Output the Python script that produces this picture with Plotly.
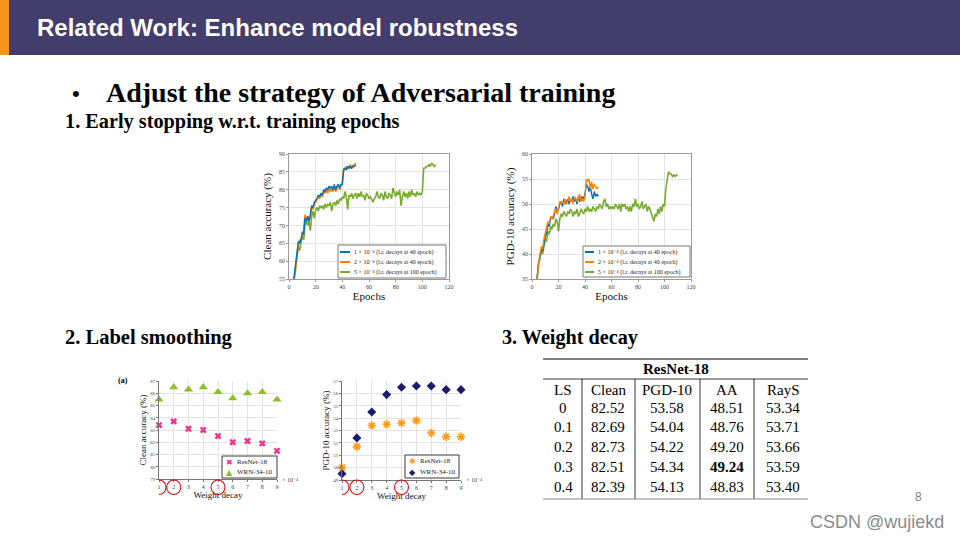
import plotly.graph_objects as go

# ---------------- data ----------------
epochs_short = list(range(3, 51))
epochs_long = list(range(3, 111))

clean_wd1 = [53, 56, 59, 62, 65.5, 65, 66, 68,
             67.5, 72, 71, 72.5, 71, 73, 75.5, 75, 76.5, 77,
             77.5, 78.5, 78, 79, 78.5, 80, 79.5, 80.5, 80, 81,
             80.5, 81, 80, 81.5, 80, 81, 81.5, 80.5, 81.5, 81.5,
             85.5, 86, 85.5, 86.5, 86, 86.5, 86, 86.5, 86.5, 87]
clean_wd2 = [52.5, 55.5, 59.5, 63, 64.5, 66, 65.5, 68,
             68.5, 73, 71.5, 72.5, 72, 72, 75, 74.5, 76, 76.5,
             77.5, 78, 77.5, 79, 78, 79.5, 79, 80, 79, 80.5,
             79.5, 80.5, 79.5, 81, 79.5, 80.5, 81.5, 80, 81, 82,
             86, 85.5, 86.5, 86, 86.5, 87, 86, 87, 86.5, 87.5]
clean_wd5 = [52, 55, 58, 61, 64, 63, 65, 67,
             66, 70, 71.5, 70, 71, 68.5, 72.5, 74, 72, 74.5,
             75, 74, 75.5, 75, 75.5, 74.5, 76, 75, 76, 75.5,
             76.5, 74, 76, 76.5, 75.5, 77, 76, 77.5, 77, 78,
             77.5, 79.5, 78, 74.5, 78.5, 78, 79, 77.5, 78.5, 79,
             77.5, 79, 78, 79.5, 78, 78.5, 77, 79, 78.5, 77.5,
             78, 77, 76.5, 77.5, 78, 79.5, 78, 77.5, 79, 78.5,
             77, 79.5, 78, 77.5, 79, 78.5, 77.5, 80.5, 79, 78,
             79.5, 78.5, 80, 75.5, 78, 79.5, 78, 79, 77.5, 79.5,
             78, 80, 78.5, 79, 78, 79.5, 78.5, 79, 78.5, 79.5,
             86, 86, 86.5, 86.5, 87, 86.5, 87.5, 87, 86.5, 87]

pgd_wd1 = [33, 35.5, 38.5, 39.5, 41, 40.5, 42.5, 43.5,
           44, 46, 45.5, 47, 47.5, 47, 48, 49.5, 48.5, 49,
           50, 50.5, 49.5, 51, 50, 50.5, 51, 50, 51, 50.5,
           51.5, 50.5, 51, 50, 51.5, 50.5, 51, 51.5, 51, 52,
           54, 53.5, 52.5, 53.5, 52, 51, 52.5, 51.5, 52, 51.5]
pgd_wd2 = [33.5, 36, 38, 40, 41.5, 41, 43, 44,
           45, 46.5, 46, 47.5, 47, 47.5, 48.5, 49, 48, 49.5,
           50.5, 50, 50.5, 50, 51, 50, 50.5, 51.5, 50.5, 51,
           50, 51.5, 51, 50.5, 51, 52, 50.5, 51, 50.5, 51.5,
           55, 54.5, 55, 53, 54.5, 53, 54, 53.5, 53, 53.5]
pgd_wd5 = [32.5, 35, 38, 39, 40.5, 40, 42, 43,
           42.5, 44.5, 44, 45.5, 45, 46, 45.5, 47, 46.5, 44.5,
           47, 48, 47.5, 48.5, 48, 47.5, 48.5, 48, 49, 48.5,
           47.5, 48.5, 48, 49, 47.5, 48, 49, 48.5, 48, 49,
           48.5, 49.5, 48.5, 49, 48.5, 49.5, 49, 48.5, 49.5, 49,
           50, 49.5, 49, 50.5, 51, 49.5, 50, 49, 49.5, 49,
           49.5, 49, 50, 49.5, 49, 50, 48.5, 50, 49.5, 50,
           49, 49.5, 48.5, 49.5, 48.5, 50, 49.5, 51, 49.5, 50,
           49, 49.5, 50.5, 49, 49.5, 50, 48.5, 49.5, 49, 48,
           47.5, 46.5, 48, 47.5, 49, 48, 49.5, 48.5, 50, 49.5,
           53, 55, 56.5, 56, 56, 55.5, 55.8, 55.5, 55.8, 55.7]

curve_names = ["1 \u00d7 10\u207b\u2074 (l.r. decays at 40 epoch)",
               "2 \u00d7 10\u207b\u2074 (l.r. decays at 40 epoch)",
               "5 \u00d7 10\u207b\u2074 (l.r. decays at 100 epoch)"]

weight_decay = [1, 2, 3, 4, 5, 6, 7, 8, 9]
highlighted_wd = [1, 2, 5]
clean_resnet18 = [83.4, 83.7, 83.1, 83.0, 82.5, 82.0, 82.1, 81.9, 81.3]
clean_wrn = [85.5, 86.5, 86.3, 86.5, 86.1, 85.6, 86.0, 86.1, 85.5]
pgd_resnet18 = [50.0, 51.7, 53.4, 53.5, 53.6, 53.8, 52.8, 52.5, 52.5]
pgd_wrn = [49.5, 52.4, 54.5, 55.9, 56.5, 56.6, 56.6, 56.3, 56.3]
model_names = ["ResNet-18", "WRN-34-10"]

table_title = "ResNet-18"
table_header = ["LS", "Clean", "PGD-10", "AA", "RayS"]
ls_values = ["0", "0.1", "0.2", "0.3", "0.4"]
ls_clean = ["82.52", "82.69", "82.73", "82.51", "82.39"]
ls_pgd10 = ["53.58", "54.04", "54.22", "54.34", "54.13"]
ls_aa = ["48.51", "48.76", "49.20", "49.24", "48.83"]
ls_rays = ["53.34", "53.71", "53.66", "53.59", "53.40"]
best_cell = (3, 3)  # row, column shown in bold

# ---------------- helpers ----------------
W, H = 960, 540
def px(x):
    return x / W
def py(y):
    return 1 - y / H

SERIF = "Liberation Serif, Times New Roman, DejaVu Serif, serif"
SANS = "Liberation Sans, Arial, sans-serif"
LINE_COLORS = ["#0072BD", "#FF8000", "#77AC30"]

fig = go.Figure()

# top-left: clean accuracy curves
fig.add_trace(go.Scatter(x=epochs_long, y=clean_wd5, mode="lines", name=curve_names[2],
                         line=dict(color=LINE_COLORS[2], width=1.6), xaxis="x", yaxis="y", showlegend=False))
fig.add_trace(go.Scatter(x=epochs_short, y=clean_wd2, mode="lines", name=curve_names[1],
                         line=dict(color=LINE_COLORS[1], width=1.6), xaxis="x", yaxis="y", showlegend=False))
fig.add_trace(go.Scatter(x=epochs_short, y=clean_wd1, mode="lines", name=curve_names[0],
                         line=dict(color=LINE_COLORS[0], width=1.4), xaxis="x", yaxis="y", showlegend=False))
# top-right: PGD-10 curves
fig.add_trace(go.Scatter(x=epochs_long, y=pgd_wd5, mode="lines", name=curve_names[2],
                         line=dict(color=LINE_COLORS[2], width=1.6), xaxis="x2", yaxis="y2", showlegend=False))
fig.add_trace(go.Scatter(x=epochs_short, y=pgd_wd1, mode="lines", name=curve_names[0],
                         line=dict(color=LINE_COLORS[0], width=1.4), xaxis="x2", yaxis="y2", showlegend=False))
fig.add_trace(go.Scatter(x=epochs_short, y=pgd_wd2, mode="lines", name=curve_names[1],
                         line=dict(color=LINE_COLORS[1], width=1.4), xaxis="x2", yaxis="y2", showlegend=False))

# bottom-left: clean accuracy vs weight decay
MAGENTA, LIME, ORANGE, NAVY = "#F0328C", "#8CBF26", "#FF9A1A", "#1B1B6E"
fig.add_trace(go.Scatter(x=weight_decay, y=clean_resnet18, mode="markers", name=model_names[0],
                         marker=dict(symbol="x", size=6, color=MAGENTA, line=dict(width=0)),
                         xaxis="x3", yaxis="y3", showlegend=False, cliponaxis=False))
fig.add_trace(go.Scatter(x=weight_decay, y=clean_wrn, mode="markers", name=model_names[1],
                         marker=dict(symbol="triangle-up", size=8, color=LIME),
                         xaxis="x3", yaxis="y3", showlegend=False, cliponaxis=False))
# bottom-right: PGD-10 vs weight decay
fig.add_trace(go.Scatter(x=weight_decay, y=pgd_resnet18, mode="markers", name=model_names[0],
                         marker=dict(symbol="asterisk-open", size=7, color=ORANGE,
                                     line=dict(width=1.6, color=ORANGE)),
                         xaxis="x4", yaxis="y4", showlegend=False, cliponaxis=False))
fig.add_trace(go.Scatter(x=weight_decay, y=pgd_wrn, mode="markers", name=model_names[1],
                         marker=dict(symbol="diamond", size=7, color=NAVY),
                         xaxis="x4", yaxis="y4", showlegend=False, cliponaxis=False))

# ---------------- axes ----------------
def top_axis(domain, rng, dtick, anchor, title, standoff):
    return dict(domain=domain, range=rng, dtick=dtick, anchor=anchor,
                showgrid=True, gridcolor="#e3e3e3", gridwidth=0.7,
                showline=True, linecolor="#9a9a9a", linewidth=0.7, mirror=True,
                ticks="outside", ticklen=2, tickcolor="#9a9a9a", zeroline=False,
                tickfont=dict(family=SERIF, size=6, color="#444"),
                title=dict(text=title, font=dict(family=SERIF, size=11, color="#111"), standoff=standoff),
                automargin=False, fixedrange=True)

def bot_axis(domain, rng, dtick, anchor, title, standoff, fs=5):
    return dict(domain=domain, range=rng, dtick=dtick, anchor=anchor,
                showgrid=True, gridcolor="#e3e3e3", gridwidth=0.7,
                showline=True, linecolor="#777", linewidth=0.7, mirror=False,
                ticks="outside", ticklen=2, tickcolor="#777", zeroline=False,
                tickfont=dict(family=SERIF, size=fs, color="#444"),
                title=dict(text=title, font=dict(family=SERIF, size=9, color="#111"), standoff=standoff),
                automargin=False, fixedrange=True)

layout_axes = dict(
    xaxis=top_axis([px(289), px(449)], [0, 120], 20, "y", "Epochs", 1),
    yaxis=top_axis([py(279), py(154)], [55, 90], 5, "x", "Clean accuracy (%)", 5),
    xaxis2=top_axis([px(532), px(691)], [0, 120], 20, "y2", "Epochs", 1),
    yaxis2=top_axis([py(279), py(154)], [35, 60], 5, "x2", "PGD-10 accuracy (%)", 5),
    xaxis3=bot_axis([px(159), px(277)], [1, 9], 1, "y3", "Weight decay", 0, fs=6),
    yaxis3=bot_axis([py(479), py(381)], [79, 87], 1, "x3", "Clean accuracy (%)", 2),
    xaxis4=bot_axis([px(342), px(461)], [1, 9], 1, "y4", "Weight decay", 0, fs=6),
    yaxis4=bot_axis([py(480), py(381)], [49, 57], 1, "x4", "PGD-10 accuracy (%)", 2),
)

shapes = []
annotations = []

def rect(x0, y0, x1, y1, fill, line_color=None, lw=0):
    shapes.append(dict(type="rect", xref="paper", yref="paper",
                       x0=px(x0), x1=px(x1), y0=py(y1), y1=py(y0),
                       fillcolor=fill, line=dict(color=line_color or fill, width=lw), layer="below"))

def hline(x0, x1, y, color="#000", lw=1, layer="above"):
    shapes.append(dict(type="line", xref="paper", yref="paper",
                       x0=px(x0), x1=px(x1), y0=py(y), y1=py(y),
                       line=dict(color=color, width=lw), layer=layer))

def vline(x, y0, y1, color="#000", lw=1):
    shapes.append(dict(type="line", xref="paper", yref="paper",
                       x0=px(x), x1=px(x), y0=py(y0), y1=py(y1),
                       line=dict(color=color, width=lw)))

def text(x, y, s, size, family=SERIF, color="#000", xanchor="left", bold=False):
    annotations.append(dict(xref="paper", yref="paper", x=px(x), y=py(y), text=s,
                            showarrow=False, xanchor=xanchor, yanchor="middle",
                            font=dict(family=family, size=size, color=color,
                                      weight="bold" if bold else "normal")))

# ---------------- slide decoration ----------------
rect(0, 0, 960, 55, "#433D6C")
rect(0, 0, 9, 55, "#F7941D")
text(35, 28, "Related Work: Enhance model robustness", 24, SANS, "#ffffff", bold=True)
text(70, 93, "\u2022", 22, SANS)
text(104, 92, "Adjust the strategy of Adversarial training", 28, SERIF, bold=True)
text(63, 121, "1. Early stopping w.r.t. training epochs", 20.3, SERIF, bold=True)
text(63, 337, "2. Label smoothing", 20.5, SERIF, bold=True)
text(500, 337, "3. Weight decay", 20.2, SERIF, bold=True)
text(918, 497, "8", 12, SANS, "#7f7f7f", xanchor="center")
text(946, 522, "CSDN @wujiekd", 18, SANS, "#8c8c8c", xanchor="right")

# ---------------- legends for the top charts ----------------
def line_legend(x0, y0, x1, y1, items_y, sample_x0, sample_x1, text_x):
    rect(x0, y0, x1, y1, "#ffffff", "#555", 0.8)
    shapes[-1]["layer"] = "above"
    for yy, c, name in zip(items_y, LINE_COLORS, curve_names):
        hline(sample_x0, sample_x1, yy, c, 2)
        text(text_x, yy, name, 6, SERIF, "#222")

line_legend(338, 245, 446, 278, [252, 262, 272], 340, 350, 352)
line_legend(583, 246, 690, 277, [252, 262, 272], 585, 594, 596)

# ---------------- legends for the bottom charts ----------------
def marker_legend(x0, y0, x1, y1, items, mx, tx):
    rect(x0, y0, x1, y1, "#ffffff", "#222", 0.9)
    shapes[-1]["layer"] = "above"
    for (yy, glyph, c, name) in items:
        text(mx, yy, glyph, 8, "DejaVu Sans", c, xanchor="center")
        text(tx, yy, name, 7, SERIF, "#222")

marker_legend(222, 456, 277, 478,
              [(462, "\u2716", MAGENTA, model_names[0]), (472, "\u25B2", LIME, model_names[1])], 229, 235)
marker_legend(405, 455, 459, 478,
              [(461, "\u2731", ORANGE, model_names[0]), (472, "\u25C6", NAVY, model_names[1])], 412, 418)

# red circles round selected weight-decay ticks, and the x10^-4 factor
for xr in ["x3", "x4"]:
    for v in highlighted_wd:
        shapes.append(dict(type="circle", xref=xr, yref="paper", xsizemode="pixel", xanchor=v,
                           x0=-7, x1=7, y0=py(494.5), y1=py(480),
                           line=dict(color="#D01010", width=1.1), layer="above"))
    annotations.append(dict(xref=xr, yref="paper", x=9, y=py(480), xshift=3,
                            text="\u00d7 10\u207b\u2074", showarrow=False,
                            xanchor="left", yanchor="middle",
                            font=dict(family=SERIF, size=6, color="#444")))
text(116, 380, "(a)", 8, SERIF, bold=True)

# ---------------- table ----------------
tx0, tx1 = 543, 808
col_centers = [563, 608, 667, 727, 783]
col_dividers = [582, 635, 700, 754]
hline(tx0, tx1, 359, "#000", 1.2)
text((tx0 + tx1) / 2, 369, table_title, 15, SERIF, xanchor="center", bold=True)
hline(tx0, tx1, 379, "#000", 0.8)
for cx, h in zip(col_centers, table_header):
    text(cx, 390, h, 15, SERIF, xanchor="center")
row_y = [408, 427, 447, 467, 487]
columns = [ls_values, ls_clean, ls_pgd10, ls_aa, ls_rays]
for r, yy in enumerate(row_y):
    for c, (cx, col) in enumerate(zip(col_centers, columns)):
        text(cx, yy, col[r], 15, SERIF, xanchor="center", bold=(r, c) == best_cell)
for xv in col_dividers:
    vline(xv, 379, 499, "#000", 0.8)
hline(tx0, tx1, 499, "#888", 1)

fig.update_layout(
    width=W, height=H, margin=dict(l=0, r=0, t=0, b=0),
    paper_bgcolor="#ffffff", plot_bgcolor="#ffffff",
    showlegend=False, shapes=shapes, annotations=annotations,
    **layout_axes,
)

fig.write_html("out.html", config={"displayModeBar": False},
               post_script="document.body.style.margin='0';document.body.style.overflow='hidden';")
